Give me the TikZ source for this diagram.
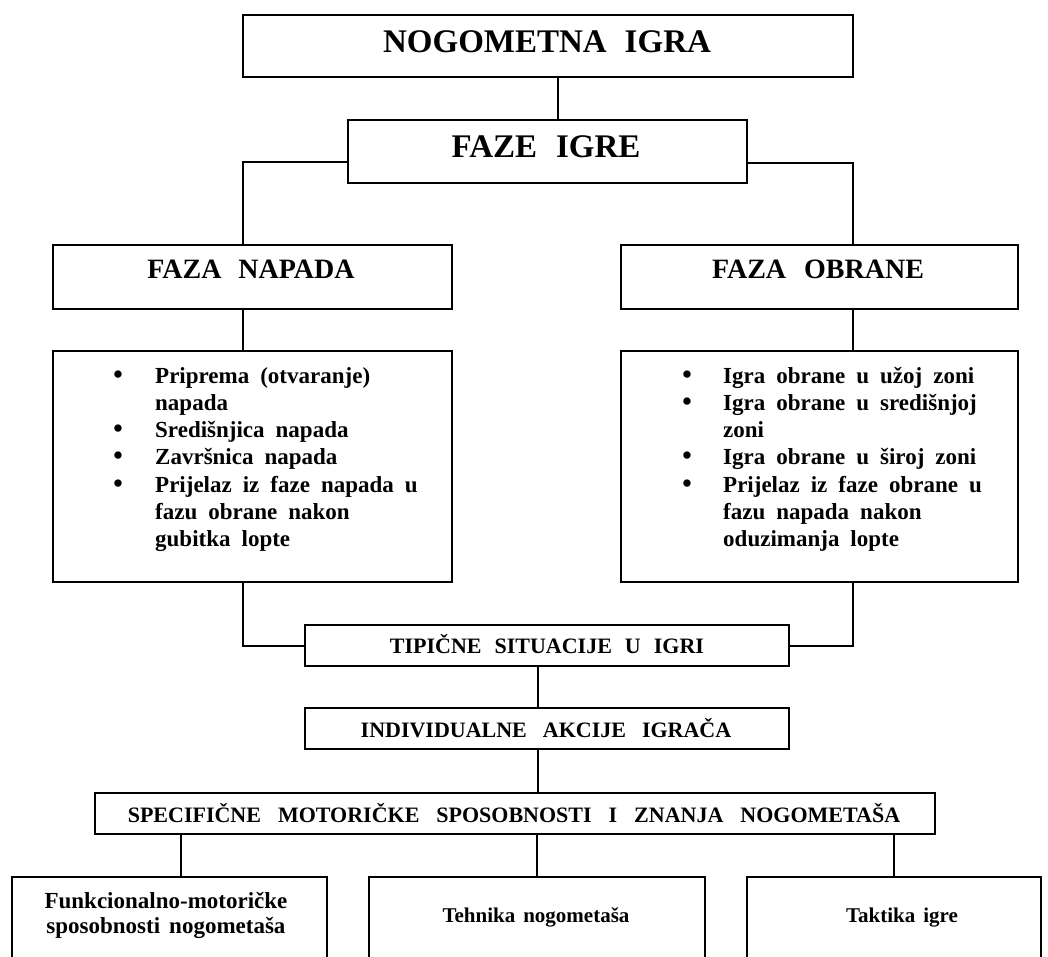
\documentclass[tikz,border=0pt]{standalone}
\usepackage{fontspec}
\setmainfont{Liberation Serif}
\usetikzlibrary{calc}
\newcommand{\wsp}[1]{\spaceskip=#1\relax}
\newcommand{\bul}{\makebox[16pt]{\fontsize{27}{27}\selectfont\textbullet}}
\begin{document}
\begin{tikzpicture}[x=1pt,y=-1pt,
  box/.style={draw=black, line width=2.3pt, rectangle, inner sep=0pt, anchor=north west},
  conn/.style={draw=black, line width=2pt},
  lbl/.style={anchor=base, inner sep=0pt},
  big/.style={font=\bfseries\fontsize{33}{36}\selectfont},
  mid/.style={font=\bfseries\fontsize{28}{32}\selectfont},
  small/.style={font=\bfseries\fontsize{22}{26}\selectfont},
  listtxt/.style={anchor=base west, inner sep=0pt, font=\bfseries\fontsize{23}{27.33}\selectfont\wsp{11pt}},
]
\useasboundingbox (0,0) rectangle (1048,957);
\clip (0,0) rectangle (1048,957);

% boxes
\node[box, minimum width=610pt, minimum height=62pt] (nog) at (242,14) {};
\node[box, minimum width=399pt, minimum height=63pt] (faze) at (347,119) {};
\node[box, minimum width=399pt, minimum height=64pt] (nap) at (52,244) {};
\node[box, minimum width=397pt, minimum height=64pt] (obr) at (620,244) {};
\node[box, minimum width=399pt, minimum height=231pt] (lnap) at (52,350) {};
\node[box, minimum width=397pt, minimum height=231pt] (lobr) at (620,350) {};
\node[box, minimum width=484pt, minimum height=41pt] (tip) at (304,624) {};
\node[box, minimum width=484pt, minimum height=41pt] (ind) at (304,707) {};
\node[box, minimum width=840pt, minimum height=41pt] (spec) at (94,792) {};
\node[box, minimum width=315pt, minimum height=110pt] (b1) at (11,876) {};
\node[box, minimum width=336pt, minimum height=110pt] (b2) at (368,876) {};
\node[box, minimum width=294pt, minimum height=110pt] (b3) at (746,876) {};

% labels
\node[lbl, big] (tnog) at (547,53) {\wsp{18pt}NOGOMETNA IGRA};
\node[lbl, big] (tfaze) at (546,158) {\wsp{19pt}FAZE IGRE};
\node[lbl, mid] (tnap) at (251,279) {\wsp{17pt}FAZA NAPADA};
\node[lbl, mid] (tobr) at (818,279) {\wsp{18pt}FAZA OBRANE};
\node[lbl, small] (ttip) at (547,653) {\wsp{13pt}TIPIČNE SITUACIJE U IGRI};
\node[lbl, small] (tind) at (546,737) {\wsp{16pt}INDIVIDUALNE AKCIJE IGRAČA};
\node[lbl, small] (tspec) at (514,822) {\wsp{17pt}SPECIFIČNE MOTORIČKE SPOSOBNOSTI I ZNANJA NOGOMETAŠA};

\node[listtxt] (tl) at (110,383) {\begin{tabular}[t]{@{}p{45pt}@{}l@{}}
\bul & Priprema (otvaranje)\\
 & napada\\
\bul & Središnjica napada\\
\bul & Završnica napada\\
\bul & Prijelaz iz faze napada u\\
 & fazu obrane nakon\\
 & gubitka lopte
\end{tabular}};
\node[listtxt] (tr) at (679,383) {\begin{tabular}[t]{@{}p{44pt}@{}l@{}}
\bul & Igra obrane u užoj zoni\\
\bul & Igra obrane u središnjoj\\
 & zoni\\
\bul & Igra obrane u široj zoni\\
\bul & Prijelaz iz faze obrane u\\
 & fazu napada nakon\\
 & oduzimanja lopte
\end{tabular}};

\node[lbl, font=\bfseries\fontsize{23}{25}\selectfont\wsp{9pt}] (tb1) at (166,908) {\begin{tabular}[t]{@{}c@{}}Funkcionalno-motoričke\\ sposobnosti nogometaša\end{tabular}};
\node[lbl, font=\bfseries\fontsize{21}{24}\selectfont\wsp{8pt}] (tb2) at (536,922) {Tehnika nogometaša};
\node[lbl, font=\bfseries\fontsize{21}{24}\selectfont\wsp{8pt}] (tb3) at (902,922) {Taktika igre};

% connectors
\draw[conn] ([xshift=10pt]nog.south) -- ([xshift=10.5pt]faze.north);
\draw[conn] ([yshift=-10pt]faze.west) -| ([xshift=-10pt]nap.north);
\draw[conn] ([yshift=-11pt]faze.east) -| ([xshift=33pt]obr.north);
\draw[conn] ([xshift=-10pt]nap.south) -- ([xshift=-10pt]lnap.north);
\draw[conn] ([xshift=33pt]obr.south) -- ([xshift=33pt]lobr.north);
\draw[conn] ([xshift=-10pt]lnap.south) |- (tip.west);
\draw[conn] ([xshift=33pt]lobr.south) |- (tip.east);
\draw[conn] ([xshift=-9pt]tip.south) -- ([xshift=-9pt]ind.north);
\coordinate (ci) at ([xshift=-9pt]ind.south);
\draw[conn] (ci) -- (ci |- spec.north);
\coordinate (c1) at ([xshift=11.5pt]b1.north);
\draw[conn] (c1 |- spec.south) -- (c1);
\draw[conn] (b2.north |- spec.south) -- (b2.north);
\draw[conn] (b3.north |- spec.south) -- (b3.north);
\end{tikzpicture}
\end{document}
